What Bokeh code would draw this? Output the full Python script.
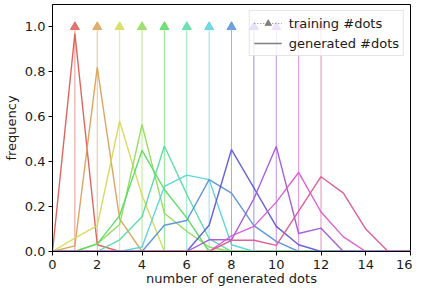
from bokeh.plotting import figure
from bokeh.models import Range1d, FixedTicker, Legend, LegendItem, ColumnDataSource, CustomJSTickFormatter
from bokeh.embed import file_html
from bokeh.resources import INLINE

# ---- data ----
x_vals = list(range(0, 17))
train_counts = [1, 2, 3, 4, 5, 6, 7, 8, 9, 10, 11, 12]
colors = ["#db5f57", "#dba157", "#d3db57", "#91db57", "#57db5f", "#57dba1",
          "#57d3db", "#5791db", "#5f57db", "#a157db", "#db57d3", "#db5791"]

gen_1 = [0, 0.97, 0.03, 0, 0, 0, 0, 0, 0, 0, 0, 0, 0, 0, 0, 0, 0]
gen_2 = [0, 0.025, 0.82, 0.145, 0, 0, 0, 0, 0, 0, 0, 0, 0, 0, 0, 0, 0]
gen_3 = [0, 0.06, 0.115, 0.58, 0.25, 0, 0, 0, 0, 0, 0, 0, 0, 0, 0, 0, 0]
gen_4 = [0, 0, 0.034, 0.12, 0.565, 0.17, 0.09, 0.02, 0, 0, 0, 0, 0, 0, 0, 0, 0]
gen_5 = [0, 0, 0.034, 0.16, 0.45, 0.276, 0.15, 0, 0, 0, 0, 0, 0, 0, 0, 0, 0]
gen_6 = [0, 0, 0, 0.052, 0.155, 0.47, 0.255, 0.057, 0, 0, 0, 0, 0, 0, 0, 0, 0]
gen_7 = [0, 0, 0, 0, 0.02, 0.29, 0.34, 0.32, 0.03, 0, 0, 0, 0, 0, 0, 0, 0]
gen_8 = [0, 0, 0, 0, 0, 0.117, 0.138, 0.32, 0.26, 0.115, 0.045, 0, 0, 0, 0, 0, 0]
gen_9 = [0, 0, 0, 0, 0, 0, 0, 0.117, 0.454, 0.283, 0.112, 0.03, 0, 0, 0, 0, 0]
gen_10 = [0, 0, 0, 0, 0, 0, 0, 0.052, 0.052, 0.235, 0.468, 0.08, 0.104, 0, 0, 0, 0]
gen_11 = [0, 0, 0, 0, 0, 0, 0, 0, 0.07, 0.112, 0.22, 0.352, 0.176, 0.065, 0, 0, 0]
gen_12 = [0, 0, 0, 0, 0, 0, 0, 0, 0.05, 0.05, 0.027, 0.18, 0.333, 0.26, 0.10, 0, 0]
generated = [gen_1, gen_2, gen_3, gen_4, gen_5, gen_6, gen_7, gen_8, gen_9, gen_10, gen_11, gen_12]

training_freq = 1.0
x_ticks = [0, 2, 4, 6, 8, 10, 12, 14, 16]
y_ticks = [0.0, 0.2, 0.4, 0.6, 0.8, 1.0]

FONT = "DejaVu Sans"

p = figure(width=412, height=288, output_backend="svg", toolbar_location=None,
           x_range=Range1d(0, 16), y_range=Range1d(0, 1.1),
           min_border_left=47, min_border_right=2, min_border_top=4, min_border_bottom=0)

p.background_fill_color = "white"
p.border_fill_color = "white"
p.outline_line_color = "black"
p.outline_line_width = 1
p.grid.visible = False

for ax in (p.xaxis[0], p.yaxis[0]):
    ax.axis_line_color = "black"
    ax.major_tick_line_color = "black"
    ax.major_tick_out = 4
    ax.major_tick_in = 0
    ax.minor_tick_line_color = None
    ax.major_label_text_font = FONT
    ax.major_label_text_font_size = "13px"
    ax.major_label_text_color = "#1a1a1a"
    ax.major_label_text_line_height = 1.0
    ax.axis_label_text_font = FONT
    ax.axis_label_text_font_size = "13px"
    ax.axis_label_text_font_style = "normal"
    ax.axis_label_text_color = "#1a1a1a"
    ax.axis_label_text_line_height = 1.0
    ax.major_label_standoff = 3

p.xaxis[0].ticker = FixedTicker(ticks=x_ticks)
p.yaxis[0].ticker = FixedTicker(ticks=y_ticks)
p.yaxis[0].formatter = CustomJSTickFormatter(code="return tick.toFixed(1);")
p.xaxis.axis_label = "number of generated dots"
p.yaxis.axis_label = "frequency"
p.xaxis[0].major_label_standoff = 4
p.xaxis[0].axis_label_standoff = -1
p.yaxis[0].axis_label_standoff = 3

# training arrows (vertical line + head)
for k, c in zip(train_counts, colors):
    p.segment(x0=[k], y0=[0], x1=[k], y1=[training_freq * 0.985], line_color=c,
              line_width=1, line_alpha=0.65)
    p.scatter(x=[k], y=[training_freq], marker="triangle", size=9,
              fill_color=c, line_color=c, fill_alpha=0.85, line_alpha=0.85)

# generated distributions
for g, c in zip(generated, colors):
    p.line(x=x_vals, y=g, line_color=c, line_width=1.4, line_alpha=0.95)

# legend proxies (no visible data)
nan = float("nan")
proxy = ColumnDataSource(data=dict(x=[nan], y=[nan]))
r_train_line = p.line(x="x", y="y", source=proxy, line_color="gray", line_width=1, line_dash="1 2")
r_train_head = p.scatter(x="x", y="y", source=proxy, marker="triangle", size=9,
                         fill_color="gray", line_color="gray")
r_gen = p.line(x="x", y="y", source=proxy, line_color="gray", line_width=1.5)

legend = Legend(items=[LegendItem(label="training #dots", renderers=[r_train_line, r_train_head]),
                       LegendItem(label="generated #dots", renderers=[r_gen])],
                location="top_right")
legend.label_text_font = FONT
legend.label_text_font_size = "13px"
legend.label_text_color = "#1a1a1a"
legend.glyph_width = 28
legend.glyph_height = 16
legend.label_height = 16
legend.label_standoff = 7
legend.spacing = 4
legend.padding = 4
legend.margin = 6
legend.border_line_color = "#cccccc"
legend.border_line_width = 1
legend.background_fill_color = "white"
legend.background_fill_alpha = 0.8
p.add_layout(legend)

open("out.html", "w").write(file_html(p, INLINE))
